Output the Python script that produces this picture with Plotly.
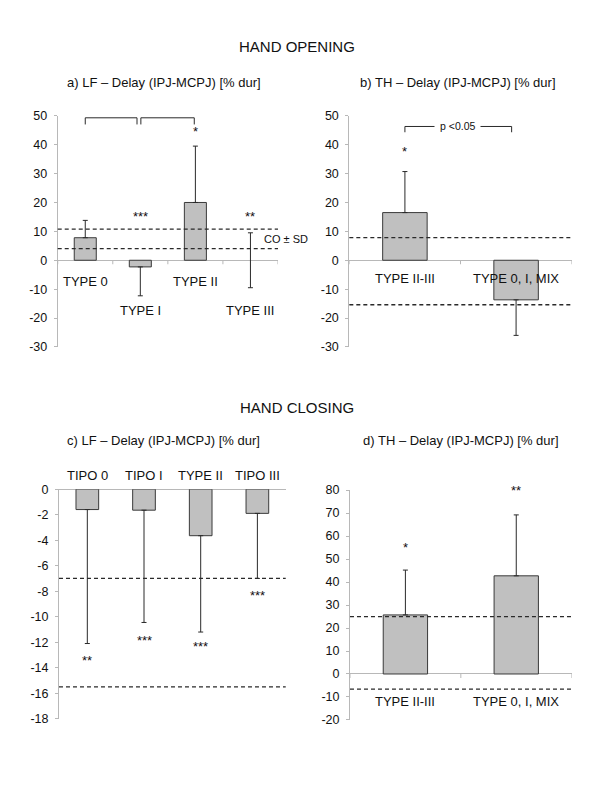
import plotly.graph_objects as go

FONT = "Liberation Sans, Arial, sans-serif"

# ---------------- data ----------------
# Panel a: HAND OPENING, LF delay
cats_a = ["TYPE 0", "TYPE I", "TYPE II", "TYPE III"]
mean_a = [7.8, -2.3, 20.0, 0.0]
sd_a = [6.0, 10.0, 19.5, 9.5]
ref_a = [4.0, 10.8]
stars_a = ["", "***", "*", "**"]
star_y_a = [None, 15.0, 44.5, 15.0]
label_y_a = [-7.2, -17.4, -7.2, -17.4]

# Panel b: HAND OPENING, TH delay
cats_b = ["TYPE II-III", "TYPE 0, I, MIX"]
mean_b = [16.5, -13.7]
sd_b = [14.2, 12.3]
ref_b = [7.8, -15.4]
stars_b = ["*", ""]
star_y_b = [37.5, None]
label_y_b = [-6.4, -6.4]

# Panel c: HAND CLOSING, LF delay (labels sit above the plot area)
cats_c = ["TIPO 0", "TIPO I", "TYPE II", "TIPO III"]
mean_c = [-1.6, -1.65, -3.65, -1.9]
sd_c = [10.5, 8.8, 7.55, 5.1]
ref_c = [-7.0, -15.5]
stars_c = ["**", "***", "***", "***"]
star_y_c = [-13.4, -11.9, -12.3, -8.3]
label_y_c = [None, None, None, None]

# Panel d: HAND CLOSING, TH delay
cats_d = ["TYPE II-III", "TYPE 0, I, MIX"]
mean_d = [25.7, 42.7]
sd_d = [19.5, 26.5]
ref_d = [25.0, -6.6]
stars_d = ["*", "**"]
star_y_d = [55.0, 80.0]
label_y_d = [-12.0, -12.0]

# significance brackets: (x_start, x_end, y_top, y_bottom)
brackets_a = [(0.0, 0.94, 49.3, 47.0), (1.01, 1.98, 49.3, 47.0)]
brackets_b = [(0.0, 0.96, 46.3, 44.3)]
ptext_b = ("p <0.05", 0.47, 46.3)
co_text_a = ("CO \u00b1 SD", 3.21, 7.3)

titles = ["HAND OPENING", "HAND CLOSING"]
subtitles = ["a) LF \u2013 Delay (IPJ-MCPJ) [% dur]",
             "b) TH \u2013 Delay (IPJ-MCPJ) [% dur]",
             "c) LF \u2013 Delay (IPJ-MCPJ) [% dur]",
             "d) TH \u2013 Delay (IPJ-MCPJ) [% dur]"]

# ---------------- layout geometry ----------------
panels = [
    dict(cats=cats_a, mean=mean_a, sd=sd_a, ref=ref_a, stars=stars_a, star_y=star_y_a,
         label_y=label_y_a, yr=[-30, 50], dtick=10, xdom=[0.0962, 0.4633], ydom=[0.5675, 0.8616],
         tick_dir=-1),
    dict(cats=cats_b, mean=mean_b, sd=sd_b, ref=ref_b, stars=stars_b, star_y=star_y_b,
         label_y=label_y_b, yr=[-30, 50], dtick=10, xdom=[0.5822, 0.9528], ydom=[0.5675, 0.8616],
         tick_dir=-1),
    dict(cats=cats_c, mean=mean_c, sd=sd_c, ref=ref_c, stars=stars_c, star_y=star_y_c,
         label_y=label_y_c, yr=[-18, 0], dtick=2, xdom=[0.0983, 0.4762], ydom=[0.0944, 0.3866],
         tick_dir=1),
    dict(cats=cats_d, mean=mean_d, sd=sd_d, ref=ref_d, stars=stars_d, star_y=star_y_d,
         label_y=label_y_d, yr=[-20, 80], dtick=10, xdom=[0.5833, 0.9528], ydom=[0.0929, 0.3854],
         tick_dir=-1),
]

AXIS_GRAY = "#b8b8b8"
DARK = "#2a2a2a"

fig = go.Figure()
layout = dict(
    width=600, height=800,
    margin=dict(l=0, r=0, t=0, b=0),
    paper_bgcolor="white", plot_bgcolor="white",
    showlegend=False, bargap=0.6,
    font=dict(family=FONT, color="#111", size=12),
)
shapes = []
annotations = []

for i, p in enumerate(panels):
    n = i + 1
    xa = "x" if n == 1 else f"x{n}"
    ya = "y" if n == 1 else f"y{n}"
    xs = list(range(len(p["cats"])))
    arr_plus = [s if m >= 0 else 0 for m, s in zip(p["mean"], p["sd"])]
    arr_minus = [s if m <= 0 else 0 for m, s in zip(p["mean"], p["sd"])]
    line_w = [1 if m != 0 else 0 for m in p["mean"]]
    fig.add_trace(go.Bar(
        x=xs, y=p["mean"], xaxis=xa, yaxis=ya,
        marker=dict(color="#c0c0c0", line=dict(color="#3a3a3a", width=line_w)),
        error_y=dict(type="data", symmetric=False, array=arr_plus, arrayminus=arr_minus,
                     color=DARK, thickness=1, width=2.5),
        hoverinfo="skip",
    ))
    tickvals = list(range(p["yr"][0], p["yr"][1] + 1, p["dtick"]))
    layout["xaxis" if n == 1 else f"xaxis{n}"] = dict(
        domain=p["xdom"], anchor=ya, range=[-0.5, len(xs) - 0.5],
        showgrid=False, zeroline=False, showline=False, showticklabels=False, ticks="",
        fixedrange=True,
    )
    layout["yaxis" if n == 1 else f"yaxis{n}"] = dict(
        domain=p["ydom"], anchor=xa, range=p["yr"],
        tickmode="array", tickvals=tickvals, ticktext=[str(v) for v in tickvals],
        showgrid=False, zeroline=True, zerolinecolor=AXIS_GRAY, zerolinewidth=1,
        showline=True, linecolor=AXIS_GRAY, linewidth=1,
        ticks="outside", ticklen=3, tickcolor=AXIS_GRAY, ticklabelstandoff=4,
        tickfont=dict(family=FONT, size=12.5, color="#111"),
        fixedrange=True,
    )
    # x-axis tick marks at category boundaries on the zero line
    for k in range(len(xs) + 1):
        shapes.append(dict(type="line", xref=xa, yref=ya, ysizemode="pixel", yanchor=0,
                           x0=k - 0.5, x1=k - 0.5, y0=0, y1=4 * p["tick_dir"],
                           line=dict(color=AXIS_GRAY, width=1)))
    # reference dashed lines (control mean +/- SD)
    for r in p["ref"]:
        shapes.append(dict(type="line", xref=f"{xa} domain", yref=ya, x0=0, x1=1, y0=r, y1=r,
                           line=dict(color=DARK, width=1.3, dash="4px,3px")))
    # category labels
    for x, c, ly in zip(xs, p["cats"], p["label_y"]):
        if ly is None:
            annotations.append(dict(x=x, y=1, xref=xa, yref=f"{ya} domain", yshift=14,
                                    text=c, showarrow=False,
                                    font=dict(family=FONT, size=13, color="#111"),
                                    xanchor="center", yanchor="middle"))
        else:
            annotations.append(dict(x=x, y=ly, xref=xa, yref=ya, text=c, showarrow=False,
                                    font=dict(family=FONT, size=13, color="#111"),
                                    xanchor="center", yanchor="middle"))
    # significance stars
    for x, s, sy in zip(xs, p["stars"], p["star_y"]):
        if s and sy is not None:
            annotations.append(dict(x=x, y=sy, xref=xa, yref=ya, text=s, showarrow=False,
                                    font=dict(family=FONT, size=13, color="#111"),
                                    xanchor="center", yanchor="middle"))

# brackets
for (x0, x1, yt, yb) in brackets_a:
    shapes.append(dict(type="path", xref="x", yref="y",
                       path=f"M {x0} {yb} L {x0} {yt} L {x1} {yt} L {x1} {yb}",
                       line=dict(color=DARK, width=1)))
for (x0, x1, yt, yb) in brackets_b:
    shapes.append(dict(type="path", xref="x2", yref="y2",
                       path=f"M {x0} {yb} L {x0} {yt} L {x1} {yt} L {x1} {yb}",
                       line=dict(color=DARK, width=1)))
annotations.append(dict(x=ptext_b[1], y=ptext_b[2], xref="x2", yref="y2", text=ptext_b[0],
                        showarrow=False, bgcolor="white", borderpad=5,
                        font=dict(family=FONT, size=10.5, color="#111"),
                        xanchor="center", yanchor="middle"))
annotations.append(dict(x=co_text_a[1], y=co_text_a[2], xref="x", yref="y", text=co_text_a[0],
                        showarrow=False, font=dict(family=FONT, size=11, color="#111"),
                        xanchor="left", yanchor="middle"))

# titles
for t, ty in zip(titles, [0.95, 0.491]):
    annotations.append(dict(x=0.495, y=ty, xref="paper", yref="paper", text=t, showarrow=False,
                            font=dict(family=FONT, size=15, color="#111"),
                            xanchor="center", yanchor="middle"))
for t, (tx, ty) in zip(subtitles, [(0.273, 0.904), (0.763, 0.904), (0.272, 0.449), (0.768, 0.449)]):
    annotations.append(dict(x=tx, y=ty, xref="paper", yref="paper", text=t, showarrow=False,
                            font=dict(family=FONT, size=13, color="#111"),
                            xanchor="center", yanchor="middle"))

layout["shapes"] = shapes
layout["annotations"] = annotations
fig.update_layout(**layout)
fig.write_html("out.html",
               config={"displayModeBar": False, "staticPlot": True},
               post_script="document.body.style.margin='0';document.body.style.overflow='hidden';")
